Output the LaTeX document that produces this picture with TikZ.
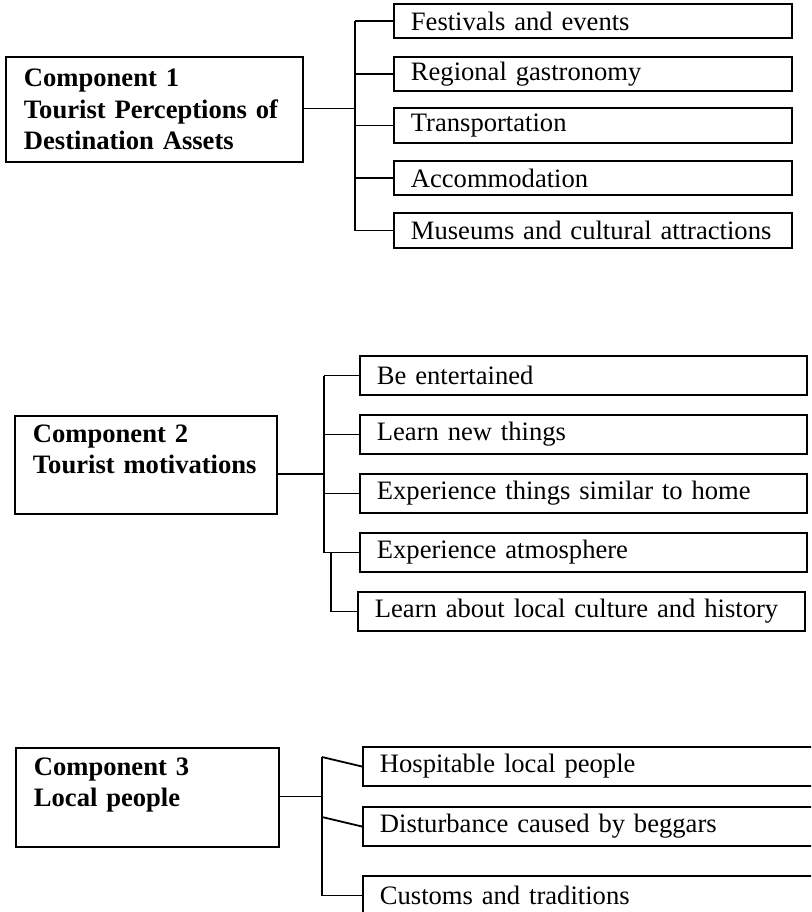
\documentclass[tikz,border=0pt]{standalone}
\usepackage{fontspec}
\setmainfont{Liberation Serif}
\usepackage{tikz}

\begin{document}
\begin{tikzpicture}[x=0.5pt, y=-0.5pt,
	comp/.style={draw, line width=0.9pt, anchor=north west, align=left, inner xsep=9pt, inner ysep=3pt, font=\bfseries\fontsize{13.3}{15.6}\selectfont},
	item/.style={draw, line width=0.9pt, anchor=west, align=left, inner xsep=8.5pt, inner ysep=0pt, font=\fontsize{13.3}{15.6}\selectfont},
	link/.style={line width=0.9pt}]
	\useasboundingbox (0,0) rectangle (811,912);
	\clip (0,0) rectangle (811,912);

	\node[comp, text width=130.5pt, minimum height=52.5pt] (c1) at (5,56) {Component 1\\Tourist Perceptions of\\Destination Assets};
		\node[item, text width=182pt, minimum height=17.25pt] (fest) at (393,21) {Festivals and events};
		\node[item, text width=182pt, minimum height=17.25pt] (gastro) at (393,74) {Regional gastronomy};
		\node[item, text width=182pt, minimum height=17.25pt] (transport) at (393,125.5) {Transportation};
		\node[item, text width=182pt, minimum height=17.25pt] (accom) at (393,178) {Accommodation};
		\node[item, text width=182pt, minimum height=17.25pt] (museum) at (393,230.5) {Museums and cultural attractions};
	\coordinate (j1) at (355,108.5);
	\draw[link] (c1.east |- j1) -- (j1);
	\draw[link] (j1 |- fest.west) -- (j1 |- museum.west);
	\draw[link] (j1 |- fest.west) -- (fest.west);
	\draw[link] (j1 |- gastro.west) -- (gastro.west);
	\draw[link] (j1 |- transport.west) -- (transport.west);
	\draw[link] (j1 |- accom.west) -- (accom.west);
	\draw[link] (j1 |- museum.west) -- (museum.west);

	\node[comp, text width=113pt, minimum height=49pt] (c2) at (14,415) {Component 2\\Tourist motivations\\~};
		\node[item, text width=206.5pt, minimum height=19.5pt] (fun) at (359,375.5) {Be entertained};
		\node[item, text width=206.5pt, minimum height=19.5pt] (learn) at (359,434.5) {Learn new things};
		\node[item, text width=206.5pt, minimum height=19.5pt] (home) at (359,493.5) {Experience things similar to home};
		\node[item, text width=206.5pt, minimum height=19.5pt] (atmo) at (359,552.5) {Experience atmosphere};
		\node[item, text width=206.5pt, minimum height=19.5pt] (culture) at (357,611.5) {Learn about local culture and history};
	\coordinate (j2) at (324,474);
	\coordinate (k2) at (331,552.5);
	\draw[link] (c2.east |- j2) -- (j2);
	\draw[link] (j2 |- fun.west) -- (j2 |- atmo.west);
	\draw[link] (j2 |- fun.west) -- (fun.west);
	\draw[link] (j2 |- learn.west) -- (learn.west);
	\draw[link] (j2 |- home.west) -- (home.west);
	\draw[link] (j2 |- atmo.west) -- (atmo.west);
	\draw[link] (k2) -- (k2 |- culture.west) -- (culture.west);

	\node[comp, text width=113.5pt, minimum height=49.5pt] (c3) at (15,747) {Component 3\\Local people\\~};
		\node[item, text width=208pt, minimum height=19.5pt] (hosp) at (362,766.5) {Hospitable local people};
		\node[item, text width=208pt, minimum height=19.5pt] (beggar) at (362,826.5) {Disturbance caused by beggars};
		\node[item, text width=208pt, minimum height=19.5pt] (custom) at (362,895.5) {Customs and traditions};
	\coordinate (j3) at (322,796.5);
	\coordinate (top3) at (322,757);
	\coordinate (mid3) at (322,817);
	\draw[link] (c3.east |- j3) -- (j3);
	\draw[link] (top3) -- (j3 |- custom.west) -- (custom.west);
	\draw[link] (top3) -- (hosp.west);
	\draw[link] (mid3) -- (beggar.west);
\end{tikzpicture}
\end{document}
